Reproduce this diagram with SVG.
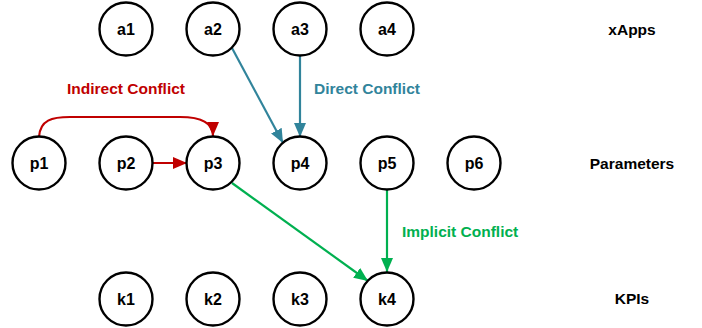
<svg xmlns="http://www.w3.org/2000/svg" width="702" height="328" viewBox="0 0 702 328">
  <style>
    .node circle { fill: #ffffff; stroke: #000000; stroke-width: 2.4; }
    .node text { font-family: "Liberation Sans", Arial, sans-serif; font-weight: bold; font-size: 16px; text-anchor: middle; dominant-baseline: central; fill: #000000; }
    .tier { font-family: "Liberation Sans", Arial, sans-serif; font-weight: bold; font-size: 15.5px; text-anchor: middle; dominant-baseline: central; fill: #000000; }
    .lbl { font-family: "Liberation Sans", Arial, sans-serif; font-weight: bold; font-size: 15.5px; dominant-baseline: central; }
    .red { stroke: #C00000; fill: none; stroke-width: 2.2; }
    .teal { stroke: #31849B; fill: none; stroke-width: 2.2; }
    .green { stroke: #00B050; fill: none; stroke-width: 2.2; }
  </style>
  <defs>
    <marker id="ahRed" viewBox="0 0 14 12" refX="14" refY="6" markerWidth="14" markerHeight="12" markerUnits="userSpaceOnUse" orient="auto">
      <path d="M0,0 L14,6 L0,12 Z" fill="#C00000"/>
    </marker>
    <marker id="ahTeal" viewBox="0 0 14 12" refX="14" refY="6" markerWidth="14" markerHeight="12" markerUnits="userSpaceOnUse" orient="auto">
      <path d="M0,0 L14,6 L0,12 Z" fill="#31849B"/>
    </marker>
    <marker id="ahGreen" viewBox="0 0 14 12" refX="14" refY="6" markerWidth="14" markerHeight="12" markerUnits="userSpaceOnUse" orient="auto">
      <path d="M0,0 L14,6 L0,12 Z" fill="#00B050"/>
    </marker>
  </defs>

  <!-- connectors -->
  <g id="connectors">
    <path class="red" d="M39,137 C40,120 52,117 70,117 L180,117 C202,117 213,124 213,136" marker-end="url(#ahRed)"/>
    <line class="red" x1="152" y1="163" x2="187" y2="163" marker-end="url(#ahRed)"/>
    <line class="teal" x1="232" y1="48" x2="283" y2="143" marker-end="url(#ahTeal)"/>
    <line class="teal" x1="300" y1="55" x2="300" y2="137" marker-end="url(#ahTeal)"/>
    <line class="green" x1="232" y1="183" x2="368" y2="281" marker-end="url(#ahGreen)"/>
    <line class="green" x1="387" y1="190" x2="387" y2="272" marker-end="url(#ahGreen)"/>
  </g>

  <!-- connector labels -->
  <text class="lbl" x="126" y="88" text-anchor="middle" fill="#C00000">Indirect Conflict</text>
  <text class="lbl" x="314" y="88" fill="#31849B">Direct Conflict</text>
  <text class="lbl" x="402" y="231" fill="#00B050">Implicit Conflict</text>

  <!-- xApps -->
  <g id="a1" class="node"><circle cx="126" cy="29" r="26.5"/><text x="126" y="29">a1</text></g>
  <g id="a2" class="node"><circle cx="213" cy="29" r="26.5"/><text x="213" y="29">a2</text></g>
  <g id="a3" class="node"><circle cx="300" cy="29" r="26.5"/><text x="300" y="29">a3</text></g>
  <g id="a4" class="node"><circle cx="387" cy="29" r="26.5"/><text x="387" y="29">a4</text></g>

  <!-- Parameters -->
  <g id="p1" class="node"><circle cx="39" cy="163" r="26.5"/><text x="39" y="163">p1</text></g>
  <g id="p2" class="node"><circle cx="126" cy="163" r="26.5"/><text x="126" y="163">p2</text></g>
  <g id="p3" class="node"><circle cx="213" cy="163" r="26.5"/><text x="213" y="163">p3</text></g>
  <g id="p4" class="node"><circle cx="300" cy="163" r="26.5"/><text x="300" y="163">p4</text></g>
  <g id="p5" class="node"><circle cx="387" cy="163" r="26.5"/><text x="387" y="163">p5</text></g>
  <g id="p6" class="node"><circle cx="474" cy="163" r="26.5"/><text x="474" y="163">p6</text></g>

  <!-- KPIs -->
  <g id="k1" class="node"><circle cx="126" cy="299" r="26.5"/><text x="126" y="299">k1</text></g>
  <g id="k2" class="node"><circle cx="213" cy="299" r="26.5"/><text x="213" y="299">k2</text></g>
  <g id="k3" class="node"><circle cx="300" cy="299" r="26.5"/><text x="300" y="299">k3</text></g>
  <g id="k4" class="node"><circle cx="387" cy="299" r="26.5"/><text x="387" y="299">k4</text></g>

  <!-- tier labels -->
  <text class="tier" x="632" y="29">xApps</text>
  <text class="tier" x="632" y="163">Parameters</text>
  <text class="tier" x="632" y="298">KPIs</text>
</svg>
